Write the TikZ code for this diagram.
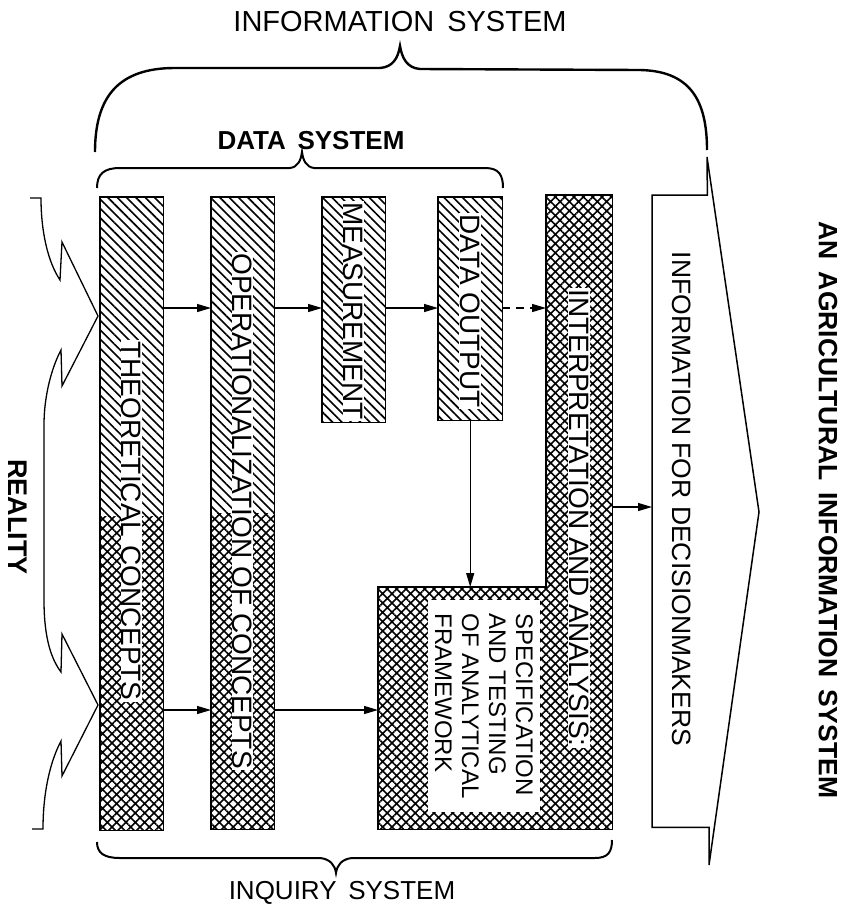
\documentclass[tikz,border=0pt]{standalone}
\usepackage{fontspec}
\setmainfont{Liberation Sans}
\usetikzlibrary{patterns.meta,arrows.meta}
\newcommand{\wsp}{\hspace{0.45em}}
\tikzset{
  hatchfill/.style={pattern={Lines[angle=-45,distance=6.6pt,line width=1.6pt]}},
  crossfill/.style={pattern={Hatch[angle=45,distance=6.6pt,line width=1.6pt]}},
  boxshape/.style={rectangle,inner sep=0pt,anchor=north west},
  boxline/.style={line width=1.5pt},
  boxtext/.style={rotate=-90,fill=white,inner sep=1pt,font=\fontsize{28}{30}\selectfont},
  conn/.style={line width=1.2pt,-{Triangle[length=14pt,width=8pt]}},
  bracepath/.style={line width=2pt},
  zig/.style={line width=1.3pt},
  lab/.style={font=\fontsize{28}{30}\selectfont},
  blab/.style={font=\fontsize{27}{30}\selectfont\bfseries},
}
\begin{document}
\begin{tikzpicture}[x=1pt,y=-1pt]
\useasboundingbox (0,0) rectangle (844,911);
% row coordinates
\coordinate (r1) at (0,308);
\coordinate (r2) at (0,710);
\coordinate (r3) at (0,507);
\coordinate (split1) at (0,516);
\coordinate (split2) at (0,513);
% boxes
\node[boxshape,minimum width=63pt,minimum height=633pt] (b1) at (100,197) {};
\node[boxshape,minimum width=63pt,minimum height=632pt] (b2) at (211,197) {};
\node[boxshape,minimum width=63pt,minimum height=225pt] (b3) at (322,197) {};
\node[boxshape,minimum width=64pt,minimum height=223pt] (b4) at (438,197) {};
\node[boxshape,minimum width=66pt,minimum height=634pt] (b5) at (546,195) {};
\node[boxshape,minimum width=234pt,minimum height=242pt] (spec) at (378,587) {};
\node[boxshape,minimum width=55pt,minimum height=632pt] (infob) at (652,195) {};
% fills
\fill[hatchfill] (b1.north west) rectangle (b1.east |- split1);
\fill[crossfill] (b1.west |- split1) rectangle (b1.south east);
\fill[hatchfill] (b2.north west) rectangle (b2.east |- split2);
\fill[crossfill] (b2.west |- split2) rectangle (b2.south east);
\fill[hatchfill] (b3.north west) rectangle (b3.south east);
\fill[hatchfill] (b4.north west) rectangle (b4.south east);
\fill[crossfill] (b5.north west) -- (b5.north east) -- (b5.south east) -- (spec.south west) -- (spec.north west) -- (b5.west |- spec.north) -- cycle;
% outlines
\draw[boxline] (b1.north west) rectangle (b1.south east);
\draw[boxline] (b2.north west) rectangle (b2.south east);
\draw[boxline] (b3.north west) rectangle (b3.south east);
\draw[boxline] (b4.north west) rectangle (b4.south east);
\draw[boxline] (b5.north west) -- (b5.north east) -- (b5.south east) -- (spec.south west) -- (spec.north west) -- (b5.west |- spec.north) -- cycle;
% information arrow
\coordinate (tiptop) at (707,157);
\coordinate (tip) at (759,512);
\coordinate (tipbot) at (709,865);
\draw[boxline,line join=miter] (infob.north west) -- (infob.north east) -- (tiptop) -- (tip) -- (tipbot) -- (tipbot |- infob.south) -- (infob.south west) -- cycle;
% texts
\node[boxtext] (t1) at (131.5,521) {THEORETICAL CONCEPTS};
\node[boxtext] (t2) at (242.5,511) {OPERATIONALIZATION OF CONCEPTS};
\node[boxtext] (t3) at (353.5,311) {MEASUREMENT};
\node[boxtext] (t4) at (470,311) {DATA OUTPUT};
\node[boxtext] (t5) at (579,518) {INTERPRETATION AND ANALYSIS:};
\node[rotate=-90,fill=white,inner xsep=4pt,inner ysep=0pt,minimum width=212pt,minimum height=112pt,align=left,font=\fontsize{24}{27}\selectfont] (t6) at (484,706) {SPECIFICATION\\AND TESTING\\OF ANALYTICAL\\FRAMEWORK};
\node[rotate=-90,inner sep=1pt,font=\fontsize{26.5}{30}\selectfont] (t7) at (682,499) {INFORMATION FOR DECISIONMAKERS};
% connectors
\draw[conn] (b1.east |- r1) -- (b2.west |- r1);
\draw[conn] (b2.east |- r1) -- (b3.west |- r1);
\draw[conn] (b3.east |- r1) -- (b4.west |- r1);
\draw[conn,dash pattern=on 8pt off 6pt] (b4.east |- r1) -- (b5.west |- r1);
\draw[conn] (b1.east |- r2) -- (b2.west |- r2);
\draw[conn] (b2.east |- r2) -- (spec.west |- r2);
\draw[conn] (b4.south) -- (b4.south |- spec.north);
\draw[conn] (b5.east |- r3) -- (infob.west |- r3);
% reality
\draw[zig,line join=miter] (30,198) -- (41,198) .. controls (41,232) and (48,262) .. (60,280) -- (62,242) -- (98,316) -- (62,386) -- (61,350) .. controls (52,367) and (44,395) .. (44,425) -- (44,600) .. controls (44,640) and (52,660) .. (61,672) -- (62,634) -- (98,705) -- (62,776) -- (61,741) .. controls (51,760) and (43,790) .. (43,829) -- (32,829);
\node[blab,rotate=-90] (real) at (18,517) {REALITY};
% braces
\draw[bracepath,line width=2.4pt] (95,152) .. controls (95,95) and (120,68) .. (175,68) -- (380,68) .. controls (393,67) and (398,58) .. (400,46) .. controls (402,58) and (407,68) .. (420,69) -- (640,70) .. controls (690,71) and (707,100) .. (707,150);
\node[lab,font=\fontsize{29}{30}\selectfont] (infosys) at (400,22) {INFORMATION\wsp SYSTEM};
\draw[bracepath] (97,188) .. controls (97,174) and (104,168) .. (120,168) -- (290,168) .. controls (298,167) and (301,160) .. (302,152) .. controls (303,160) and (306,167) .. (314,168) -- (485,168) .. controls (499,168) and (503,175) .. (503,188);
\node[blab,font=\fontsize{26}{30}\selectfont\bfseries] (datasys) at (311,141) {DATA\wsp SYSTEM};
\draw[bracepath] (97,842) .. controls (97,853) and (104,858) .. (120,858) -- (320,858) .. controls (330,859) and (335,865) .. (336,873) .. controls (337,865) and (342,859) .. (352,858) -- (595,858) .. controls (608,858) and (612,852) .. (612,840);
\node[lab,font=\fontsize{26}{30}\selectfont] (inqsys) at (342,893) {INQUIRY\wsp SYSTEM};
\node[blab,rotate=-90,font=\fontsize{26.5}{30}\selectfont\bfseries] (agri) at (828,510) {AN\wsp AGRICULTURAL\wsp INFORMATION\wsp SYSTEM};
\end{tikzpicture}
\end{document}
